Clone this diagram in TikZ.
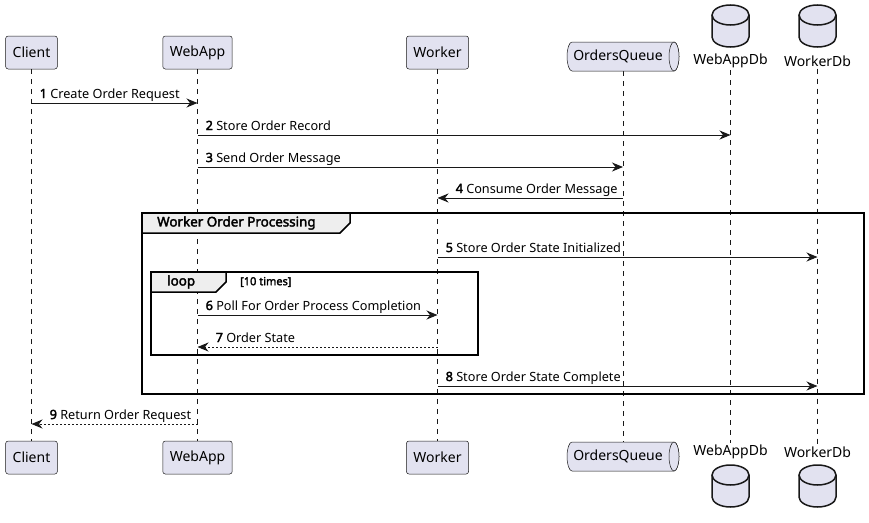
\documentclass[tikz,border=0pt]{standalone}
\usepackage{fontspec}
\setmainfont{Noto Sans}[AutoFakeBold=2.5]
\usetikzlibrary{arrows.meta,positioning,calc}

\definecolor{partfill}{HTML}{E2E2F0}
\definecolor{partline}{HTML}{181818}
\definecolor{tabfill}{HTML}{EEEEEE}

% message going right: label after the sender
\newcommand{\msgright}[6][]{%
  \draw[msg,#1] (#3 |- 0,#5) -- (#4 |- 0,#5);
  \node[msglabel] (lab#2) at ($(#3 |- 0,#5)+(8,-5)$) {\textbf{#2} #6};}
% message going left: label after the arrow head
\newcommand{\msgleft}[6][]{%
  \draw[msg,#1] (#3 |- 0,#5) -- (#4 |- 0,#5);
  \node[msglabel] (lab#2) at ($(#4 |- 0,#5)+(18,-5)$) {\textbf{#2} #6};}
% database cylinder, centre x and top y
\newcommand{\dbicon}[2]{%
  \draw[dbbox] (#1-18.5,#2+10) -- (#1-18.5,#2+32)
    arc[start angle=180, end angle=0, x radius=18.5, y radius=10]
    -- (#1+18.5,#2+10)
    arc[start angle=0, end angle=-180, x radius=18.5, y radius=10] -- cycle;
  \draw[dbline] (#1-18.5,#2+10) arc[start angle=180, end angle=0, x radius=18.5, y radius=10];}
% queue outline round a node
\newcommand{\queueicon}[1]{%
  \draw[partshape] ($(#1.north west)+(5,0)$) -- ($(#1.north east)+(-5,0)$)
    arc[start angle=-90, end angle=90, x radius=5, y radius=14.5]
    -- ($(#1.south west)+(5,0)$)
    arc[start angle=90, end angle=270, x radius=5, y radius=14.5] -- cycle;
  \draw[partshape] ($(#1.east)+(-5,0)$) ellipse[x radius=5, y radius=14.5];}

\begin{document}
\begin{tikzpicture}[x=1pt, y=-1pt,
  part/.style={draw=partline, fill=partfill, line width=0.5pt, rounded corners=2.5pt, minimum height=33pt, inner xsep=7pt, outer sep=0pt, font=\fontsize{14}{16}\selectfont},
  qbox/.style={minimum width=112pt, minimum height=29pt, inner sep=0pt, outer sep=0pt, font=\fontsize{14}{16}\selectfont},
  dblabel/.style={inner xsep=0pt, inner ysep=2pt, font=\fontsize{14}{16}\selectfont},
  partshape/.style={draw=partline, fill=partfill, line width=0.5pt},
  dbbox/.style={draw=partline, fill=partfill, line width=1.5pt},
  dbline/.style={draw=partline, line width=1.5pt},
  life/.style={draw=partline, line width=0.5pt, dash pattern=on 5pt off 5pt},
  msg/.style={draw=partline, line width=1pt, -{Stealth[length=11pt, width=9pt, inset=3.5pt]}},
  reply/.style={dash pattern=on 2pt off 2pt},
  msglabel/.style={anchor=base west, inner sep=0pt, font=\fontsize{12.7}{15}\selectfont},
  frame/.style={draw=black, line width=1.5pt},
  tab/.style={frame, fill=tabfill},
  tabtext/.style={anchor=west, inner sep=0pt, font=\fontsize{13.4}{15}\selectfont\bfseries}
]
\useasboundingbox (0,0) rectangle (869,522);

% participants, top and bottom
\node[part] (client) at (31.5,52.5) {Client};
\node[part] (webapp) at (197.5,52.5) {WebApp};
\node[part] (worker) at (437.5,52.5) {Worker};
\node[qbox] (queue) at (623,56.5) {OrdersQueue\hspace*{10pt}};
\node[dblabel] (webappdb) at (730.5,61) {WebAppDb};
\node[dblabel] (workerdb) at (817.5,61) {WorkerDb};

\node[part] (clientB) at (31.5,457.5) {Client};
\node[part] (webappB) at (197.5,457.5) {WebApp};
\node[part] (workerB) at (437.5,457.5) {Worker};
\node[qbox] (queueB) at (623,456.5) {OrdersQueue\hspace*{10pt}};
\node[dblabel] (webappdbB) at (730.5,452) {WebAppDb};
\node[dblabel] (workerdbB) at (817.5,452) {WorkerDb};

% lifelines
\draw[life] (client) -- (clientB);
\draw[life] (webapp) -- (webappB);
\draw[life] (worker) -- (workerB);
\draw[life] (queue) -- (queueB);
\draw[life] (webappdb) -- (webappdbB);
\draw[life] (workerdb) -- (workerdbB);

\queueicon{queue}
\queueicon{queueB}
\node[qbox] at (queue) {OrdersQueue\hspace*{10pt}};
\node[qbox] at (queueB) {OrdersQueue\hspace*{10pt}};
\dbicon{730.5}{5}
\dbicon{817.5}{5}
\dbicon{730.5}{465}
\dbicon{817.5}{465}

% group and loop frames
\draw[frame] (142,213) rectangle (864,394);
\draw[tab] (142,213) -- (350,213) -- (350,223) -- (340,233) -- (142,233) -- cycle;
\node[tabtext] (grouptitle) at (157,223) {Worker Order Processing};
\draw[frame] (151,272) rectangle (478,355);
\draw[tab] (151,272) -- (226,272) -- (226,282) -- (216,292) -- (151,292) -- cycle;
\node[tabtext] (looptitle) at (167,282) {loop};
\node[tabtext, font=\fontsize{11}{13}\selectfont\bfseries] (loopguard) at (240,282) {[10 times]};

% messages
\msgright{1}{client}{webapp}{103}{Create Order Request}
\msgright{2}{webapp}{webappdb}{135}{Store Order Record}
\msgright{3}{webapp}{queue}{167}{Send Order Message}
\msgleft{4}{queue}{worker}{198}{Consume Order Message}
\msgright{5}{worker}{workerdb}{257}{Store Order State Initialized}
\msgright{6}{webapp}{worker}{315}{Poll For Order Process Completion}
\msgleft[reply]{7}{worker}{webapp}{347}{Order State}
\msgright{8}{worker}{workerdb}{386}{Store Order State Complete}
\msgleft[reply]{9}{webapp}{client}{424}{Return Order Request}
\end{tikzpicture}
\end{document}
